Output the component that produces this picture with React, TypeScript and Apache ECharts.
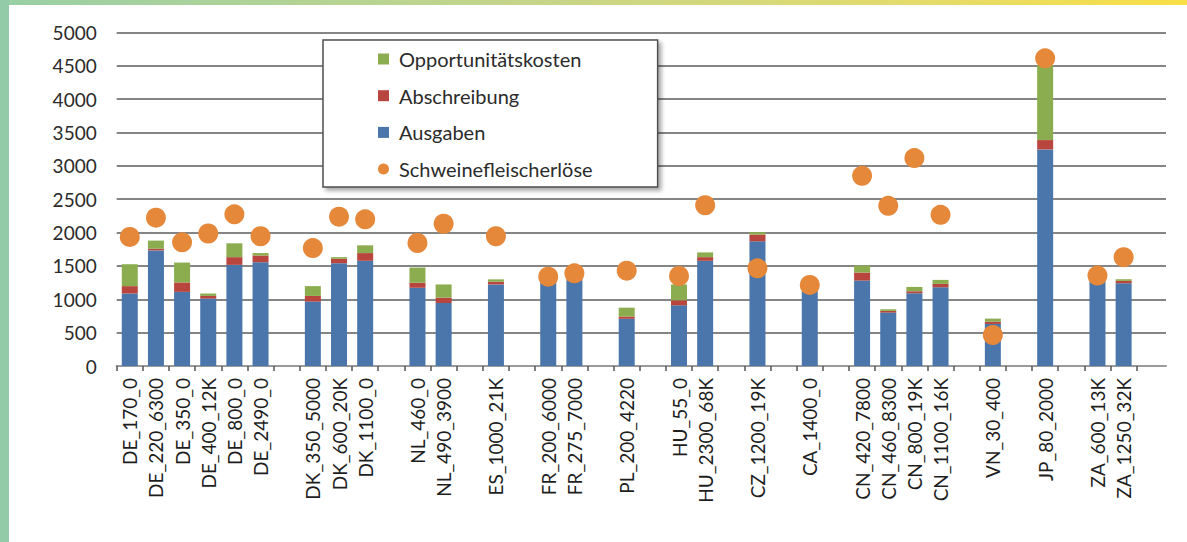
import React, { useEffect, useRef } from "react";
import * as echarts from "echarts";

// Farm types (country_herd size_area), blank slots separate the countries
const categories: string[] = [
  "DE_170_0", "DE_220_6300", "DE_350_0", "DE_400_12K", "DE_800_0", "DE_2490_0", "",
  "DK_350_5000", "DK_600_20K", "DK_1100_0", "",
  "NL_460_0", "NL_490_3900", "",
  "ES_1000_21K", "",
  "FR_200_6000", "FR_275_7000", "",
  "PL_200_4220", "",
  "HU_55_0", "HU_2300_68K", "",
  "CZ_1200_19K", "",
  "CA_1400_0", "",
  "CN_420_7800", "CN_460_8300", "CN_800_19K", "CN_1100_16K", "",
  "VN_30_400", "",
  "JP_80_2000", "",
  "ZA_600_13K", "ZA_1250_32K",
];

const ausgaben: (number | null)[] = [
  1086, 1732, 1111, 1010, 1515, 1555, null,
  965, 1540, 1576, null,
  1172, 944, null,
  1222, null,
  1250, 1280, null,
  707, null,
  909, 1576, null,
  1868, null,
  1115, null,
  1280, 800, 1090, 1180, null,
  630, null,
  3245, null,
  1270, 1240,
];

const abschreibung: (number | null)[] = [
  111, 25, 141, 40, 116, 101, null,
  85, 66, 116, null,
  75, 81, null,
  41, null,
  25, 20, null,
  35, null,
  76, 55, null,
  102, null,
  10, null,
  120, 25, 30, 50, null,
  35, null,
  140, null,
  25, 35,
];

const opportunitaetskosten: (number | null)[] = [
  328, 122, 298, 36, 207, 36, null,
  147, 25, 116, null,
  228, 197, null,
  35, null,
  20, 10, null,
  132, null,
  237, 71, null,
  35, null,
  5, null,
  105, 25, 65, 60, null,
  45, null,
  1125, null,
  20, 25,
];

const erloese: (number | null)[] = [
  1934, 2222, 1853, 1985, 2272, 1944, null,
  1767, 2237, 2197, null,
  1843, 2131, null,
  1944, null,
  1338, 1389, null,
  1429, null,
  1348, 2409, null,
  1464, null,
  1215, null,
  2850, 2400, 3115, 2265, null,
  465, null,
  4610, null,
  1355, 1630,
];

const yTicks = { min: 0, max: 5000, interval: 500 };

const FONT = "Lato, 'Open Sans', sans-serif";
const BLUE = "#4a76ab";
const RED = "#b8463f";
const GREEN = "#8cad4f";
const ORANGE = "#e5883a";

export default function App() {
  const ref = useRef<HTMLDivElement>(null);

  useEffect(() => {
    if (!ref.current) return;
    const chart = echarts.init(ref.current, undefined, { renderer: "svg" });

    const plotTop = 32.3;
    const plotBottom = 176;
    const plotLeft = 116.7;

    chart.setOption({
      animation: false,
      backgroundColor: "transparent",
      textStyle: { fontFamily: FONT },
      grid: [
        // full-width grid carrying the horizontal gridlines and the base line
        { left: plotLeft, right: 21, top: plotTop, bottom: plotBottom },
        // category grid carrying the bars, points, ticks and labels
        { left: plotLeft, right: 50.3, top: plotTop, bottom: plotBottom },
      ],
      legend: {
        orient: "vertical",
        left: 323,
        top: 40,
        padding: [9, 65, 8, 55],
        itemGap: 16.7,
        itemWidth: 11,
        itemHeight: 11,
        backgroundColor: "#ffffff",
        borderColor: "#4d4d4d",
        borderWidth: 1.5,
        borderRadius: 0,
        shadowColor: "rgba(0,0,0,0.35)",
        shadowBlur: 4,
        shadowOffsetX: 3,
        shadowOffsetY: 3,
        textStyle: {
          fontFamily: FONT,
          fontSize: 20,
          lineHeight: 20,
          color: "#2b2b2b",
          padding: [0, 0, 0, 5],
        },
        data: [
          { name: "Opportunitätskosten", icon: "rect" },
          { name: "Abschreibung", icon: "rect" },
          { name: "Ausgaben", icon: "rect" },
          { name: "Schweinefleischerlöse", icon: "circle", itemStyle: { color: ORANGE, opacity: 1 } },
        ],
        selectedMode: false,
      },
      xAxis: [
        {
          gridIndex: 0,
          type: "value",
          min: 0,
          max: 1,
          axisLine: { show: true, lineStyle: { color: "#9a9a9a", width: 2 } },
          axisTick: { show: false },
          axisLabel: { show: false },
          splitLine: { show: false },
        },
        {
          gridIndex: 1,
          type: "category",
          data: categories,
          boundaryGap: true,
          axisLine: { show: false },
          axisTick: {
            show: true,
            interval: 0,
            length: 5,
            lineStyle: { color: "#555555", width: 1.5 },
          },
          axisLabel: {
            interval: 0,
            rotate: 90,
            margin: 12,
            fontFamily: FONT,
            fontSize: 19,
            color: "#1e1e1e",
          },
          splitLine: { show: false },
        },
      ],
      yAxis: [
        {
          gridIndex: 0,
          type: "value",
          min: yTicks.min,
          max: yTicks.max,
          interval: yTicks.interval,
          axisLine: { show: false },
          axisTick: { show: false },
          axisLabel: {
            margin: 20,
            fontFamily: FONT,
            fontSize: 19,
            color: "#2b2b2b",
            formatter: (v: number) => String(v),
          },
          splitLine: { show: true, lineStyle: { color: "#858585", width: 2 } },
        },
        {
          gridIndex: 1,
          type: "value",
          min: yTicks.min,
          max: yTicks.max,
          interval: yTicks.interval,
          show: false,
          splitLine: { show: false },
        },
      ],
      series: [
        {
          name: "Ausgaben",
          type: "bar",
          stack: "kosten",
          xAxisIndex: 1,
          yAxisIndex: 1,
          barWidth: 16,
          itemStyle: { color: BLUE },
          data: ausgaben,
        },
        {
          name: "Abschreibung",
          type: "bar",
          stack: "kosten",
          xAxisIndex: 1,
          yAxisIndex: 1,
          barWidth: 16,
          itemStyle: { color: RED },
          data: abschreibung,
        },
        {
          name: "Opportunitätskosten",
          type: "bar",
          stack: "kosten",
          xAxisIndex: 1,
          yAxisIndex: 1,
          barWidth: 16,
          itemStyle: { color: GREEN },
          data: opportunitaetskosten,
        },
        {
          name: "Schweinefleischerlöse",
          type: "scatter",
          xAxisIndex: 1,
          yAxisIndex: 1,
          symbol: "circle",
          symbolSize: 20,
          z: 5,
          itemStyle: { color: ORANGE, opacity: 1 },
          data: erloese,
        },
      ],
    });

    return () => chart.dispose();
  }, []);

  return (
    <div
      style={{
        position: "fixed",
        left: 0,
        top: 0,
        width: 1187,
        height: 542,
        background: "#ffffff",
        overflow: "hidden",
      }}
    >
      <div
        style={{
          position: "absolute",
          left: 0,
          top: 0,
          width: 1187,
          height: 5,
          background:
            "linear-gradient(90deg, #98cfa6 0%, #b3d395 25%, #c6d589 45%, #d5d87a 62%, #e6db68 80%, #fae046 100%)",
        }}
      />
      <div
        style={{
          position: "absolute",
          left: 0,
          top: 0,
          width: 8.5,
          height: 542,
          background: "#93cba8",
        }}
      />
      <div
        ref={ref}
        style={{ position: "absolute", left: 0, top: 0, width: 1187, height: 542 }}
      />
    </div>
  );
}
